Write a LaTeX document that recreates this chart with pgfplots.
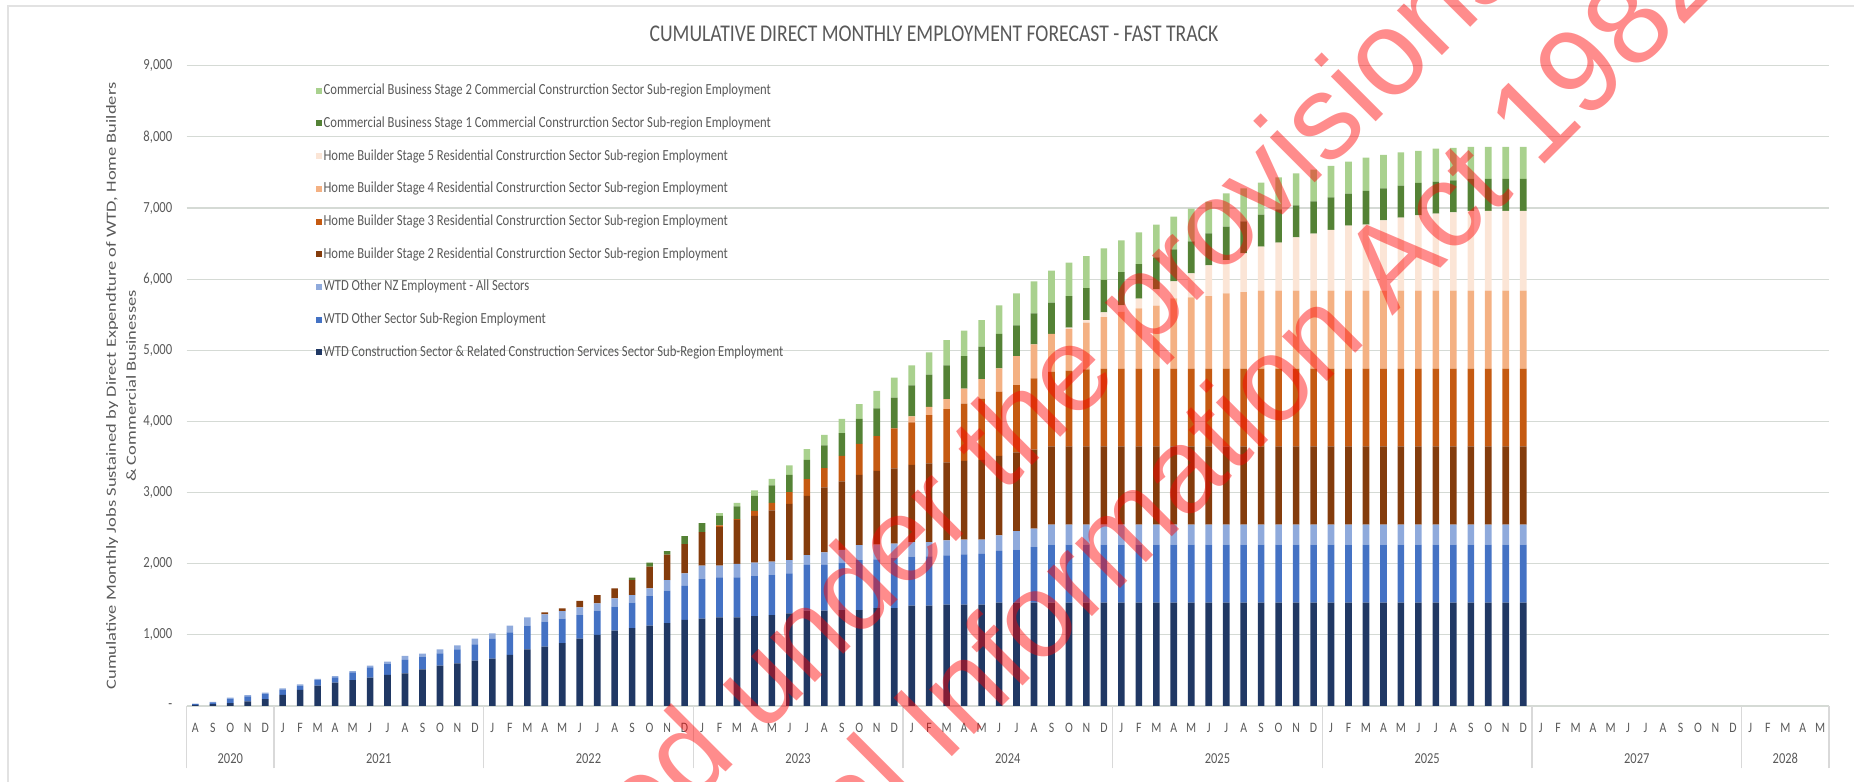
\documentclass[border=0pt]{standalone}
\usepackage{pgfplots}
\pgfplotsset{compat=1.18}
\usepackage{pgfplotstable}
\usepackage{fontspec}
\setmainfont{Carlito}[FakeStretch=0.82]
\newfontfamily\ylabfont{Carlito}[FakeStretch=1.32]
\newfontfamily\wmfont{Liberation Sans}
\definecolor{txt}{HTML}{595959}
\definecolor{gridc}{HTML}{D5DAD5}
\definecolor{sepc}{HTML}{D9D9D9}
\definecolor{c1}{HTML}{203864}
\definecolor{c2}{HTML}{4472C4}
\definecolor{c3}{HTML}{8FAADC}
\definecolor{c4}{HTML}{843C0C}
\definecolor{c5}{HTML}{C55A11}
\definecolor{c6}{HTML}{F4B183}
\definecolor{c7}{HTML}{FBE5D6}
\definecolor{c8}{HTML}{548235}
\definecolor{c9}{HTML}{A9D18E}
\pgfplotstableread{
idx s1 s2 s3 s4 s5 s6 s7 s8 s9
0 15 13 7 0 0 0 0 0 0
1 25 25 8 0 0 0 0 0 0
2 40 63 14 0 0 0 0 0 0
3 65 70 17 0 0 0 0 0 0
4 96 70 21 0 0 0 0 0 0
5 155 70 21 0 0 0 0 0 0
6 225 62 16 0 0 0 0 0 0
7 288 77 15 0 0 0 0 0 0
8 328 75 17 0 0 0 0 0 0
9 365 108 17 0 0 0 0 0 0
10 398 145 24 0 0 0 0 0 0
11 436 154 33 0 0 0 0 0 0
12 459 188 56 0 0 0 0 0 0
13 515 178 42 0 0 0 0 0 0
14 567 173 56 0 0 0 0 0 0
15 600 196 57 0 0 0 0 0 0
16 637 230 79 0 0 0 0 0 0
17 665 277 79 0 0 0 0 0 0
18 717 318 94 0 0 0 0 0 0
19 796 333 117 0 0 0 0 0 0
20 834 351 103 28 0 0 0 0 0
21 885 342 108 38 0 0 0 0 0
22 946 333 108 89 0 0 0 0 0
23 998 342 103 117 0 0 0 0 0
24 1059 337 117 141 0 0 0 0 0
25 1096 356 108 211 0 0 0 33 0
26 1129 417 108 304 0 0 0 56 0
27 1166 455 150 356 0 0 0 51 0
28 1209 478 178 412 0 0 0 112 0
29 1227 558 187 472 0 0 0 127 0
30 1246 562 164 543 23 0 0 136 37
31 1246 562 188 621 10 0 0 178 51
32 1265 562 188 659 70 0 0 211 75
33 1279 562 188 720 107 0 0 244 94
34 1302 563 187 790 164 0 0 244 131
35 1340 642 140 833 234 0 0 272 150
36 1340 642 178 912 272 0 0 318 150
37 1349 666 178 963 361 0 0 319 201
38 1349 703 211 987 436 0 0 351 206
39 1377 683 210 1035 490 0 0 390 245
40 1377 710 195 1058 562 0 0 432 281
41 1410 689 206 1085 596 86 0 435 281
42 1410 694 201 1105 679 116 0 452 314
43 1424 693 211 1096 749 139 0 476 356
44 1424 707 209 1107 803 210 0 459 356
45 1424 716 200 1121 859 276 0 455 374
46 1452 728 218 1119 903 326 0 483 403
47 1452 745 262 1105 946 409 0 431 450
48 1452 782 258 1110 1004 477 0 436 450
49 1452 815 281 1101 1050 530 0 440 450
50 1452 815 281 1101 1064 587 18 445 468
51 1452 815 281 1101 1083 656 37 450 450
52 1452 815 281 1101 1093 723 68 455 445
53 1452 815 281 1101 1093 798 91 469 445
54 1452 815 281 1101 1093 847 136 487 446
55 1452 815 281 1101 1093 885 229 450 459
56 1452 815 281 1101 1093 988 239 450 459
57 1452 815 281 1101 1093 1002 337 450 459
58 1452 815 281 1101 1093 1021 431 450 445
59 1452 815 281 1101 1093 1058 469 468 469
60 1452 815 281 1101 1093 1077 543 450 464
61 1452 815 281 1101 1093 1096 618 450 450
62 1452 815 281 1101 1093 1096 674 469 450
63 1452 815 281 1101 1093 1096 749 450 450
64 1452 815 281 1101 1093 1096 802 454 445
65 1452 815 281 1101 1093 1096 855 455 445
66 1452 815 281 1101 1093 1096 914 450 450
67 1452 815 281 1101 1093 1096 928 473 469
68 1452 815 281 1101 1093 1096 989 450 468
69 1452 815 281 1101 1093 1096 1027 449 469
70 1452 815 281 1101 1093 1096 1059 455 450
71 1452 815 281 1101 1093 1096 1083 450 463
72 1452 815 281 1101 1093 1096 1102 449 455
73 1452 815 281 1101 1093 1096 1120 450 450
74 1452 815 281 1101 1093 1096 1120 450 450
75 1452 815 281 1101 1093 1096 1120 450 450
76 1452 815 281 1101 1093 1096 1120 450 450
}\data
\begin{document}
\begin{tikzpicture}[x=1pt,y=1pt]
\useasboundingbox (0,0) rectangle (927,391);
\draw[draw={rgb,255:red,226;green,226;blue,226}, line width=0.6pt] (4,0) -- (4,388) -- (927,388);
\begin{axis}[
  at={(93.3pt,38pt)}, anchor=south west,
  width=821.2pt, height=320.15pt, scale only axis,
  ybar stacked, bar width=3.3pt,
  xmin=-0.5, xmax=93.5, ymin=0, ymax=9000,
  clip=false,
  axis line style={draw=none},
  tick style={draw=none},
  xtick pos=bottom, ytick pos=left,
  ymajorgrids, major grid style={draw=gridc, line width=0.6pt},
  ytick={0,1000,2000,3000,4000,5000,6000,7000,8000,9000},
  yticklabels={{-\hspace{3pt}},{1,000},{2,000},{3,000},{4,000},{5,000},{6,000},{7,000},{8,000},{9,000}},
  yticklabel style={font=\fontsize{7.7}{9}\selectfont, text=txt, anchor=east, inner sep=0pt, xshift=-7pt},
  xtick={0,1,...,93},
  xticklabels={A,S,O,N,D,
    J,F,M,A,M,J,J,A,S,O,N,D,
    J,F,M,A,M,J,J,A,S,O,N,D,
    J,F,M,A,M,J,J,A,S,O,N,D,
    J,F,M,A,M,J,J,A,S,O,N,D,
    J,F,M,A,M,J,J,A,S,O,N,D,
    J,F,M,A,M,J,J,A,S,O,N,D,
    J,F,M,A,M,J,J,A,S,O,N,D,
    J,F,M,A,M},
  xticklabel style={font=\fontsize{7.2}{8}\selectfont, text=txt, anchor=north, inner sep=0pt, yshift=-8.3pt},
  extra x ticks={-0.5,4.5,16.5,28.5,40.5,52.5,64.5,76.5,88.5,93.5},
  extra x tick labels={},
  extra x tick style={grid=none, tick align=outside, major tick length=31.2pt, tick style={draw=sepc, line width=0.6pt}},
  legend style={at={(0.0788,0.9745)}, anchor=north west, draw=none, fill=none, inner sep=0pt,
    row sep=8.05pt, font=\fontsize{7.7}{8}\selectfont, text=txt,
    nodes={inner sep=0.6pt, text height=5.5pt, text depth=1.6pt}},
  legend cell align=left,
  reverse legend,
  lg/.style={draw=none, legend image code/.code={\fill[##1,draw=none] (0pt,-1.5pt) rectangle (3pt,1.5pt);}},
]
\addplot[fill=c1, lg] table[x=idx,y=s1]{\data};
\addplot[fill=c2, lg] table[x=idx,y=s2]{\data};
\addplot[fill=c3, lg] table[x=idx,y=s3]{\data};
\addplot[fill=c4, lg] table[x=idx,y=s4]{\data};
\addplot[fill=c5, lg] table[x=idx,y=s5]{\data};
\addplot[fill=c6, lg] table[x=idx,y=s6]{\data};
\addplot[fill=c7, lg] table[x=idx,y=s7]{\data};
\addplot[fill=c8, lg] table[x=idx,y=s8]{\data};
\addplot[fill=c9, lg] table[x=idx,y=s9]{\data};
\legend{WTD Construction Sector \& Related Construction Services Sector Sub-Region Employment,
  WTD Other Sector Sub-Region Employment,
  WTD Other NZ Employment - All Sectors,
  Home Builder Stage 2 Residential Construrction Sector Sub-region Employment,
  Home Builder Stage 3 Residential Construrction Sector Sub-region Employment,
  Home Builder Stage 4 Residential Construrction Sector Sub-region Employment,
  Home Builder Stage 5 Residential Construrction Sector Sub-region Employment,
  Commercial Business Stage 1 Commercial Construrction Sector Sub-region Employment,
  Commercial Business Stage 2 Commercial Construrction Sector Sub-region Employment}
\tikzset{yl/.style={anchor=north, inner sep=0pt, yshift=-23.4pt, font=\fontsize{7.6}{8}\selectfont, text=txt}}
\node[yl] at (axis cs:2,0) {2020};
\node[yl] at (axis cs:10.5,0) {2021};
\node[yl] at (axis cs:22.5,0) {2022};
\node[yl] at (axis cs:34.5,0) {2023};
\node[yl] at (axis cs:46.5,0) {2024};
\node[yl] at (axis cs:58.5,0) {2025};
\node[yl] at (axis cs:70.5,0) {2025};
\node[yl] at (axis cs:82.5,0) {2027};
\node[yl] at (axis cs:91,0) {2028};
\end{axis}
\node[anchor=base, inner sep=0pt, text=txt, font=\fontsize{12}{13}\selectfont] at (467,370.15) {CUMULATIVE DIRECT MONTHLY EMPLOYMENT FORECAST - FAST TRACK};
\node[rotate=90, align=center, inner sep=0pt, text=txt, font=\ylabfont\fontsize{7}{10}\selectfont] at (60.5,198) {Cumulative Monthly Jobs Sustained by Direct Expendture of WTD, Home Builders\\ \& Commercial Businesses};
\begin{scope}
\clip (0,0) rectangle (927,391);
\tikzset{wm/.style={anchor=base west, rotate=45, inner sep=0pt, text=red, text opacity=0.45, font=\wmfont\fontsize{60}{70}\selectfont}}
\node[wm] at (190,-168) {Released under the provisions of the};
\node[wm] at (331.5,-132) {Official Information Act 1982};
\end{scope}
\end{tikzpicture}
\end{document}
